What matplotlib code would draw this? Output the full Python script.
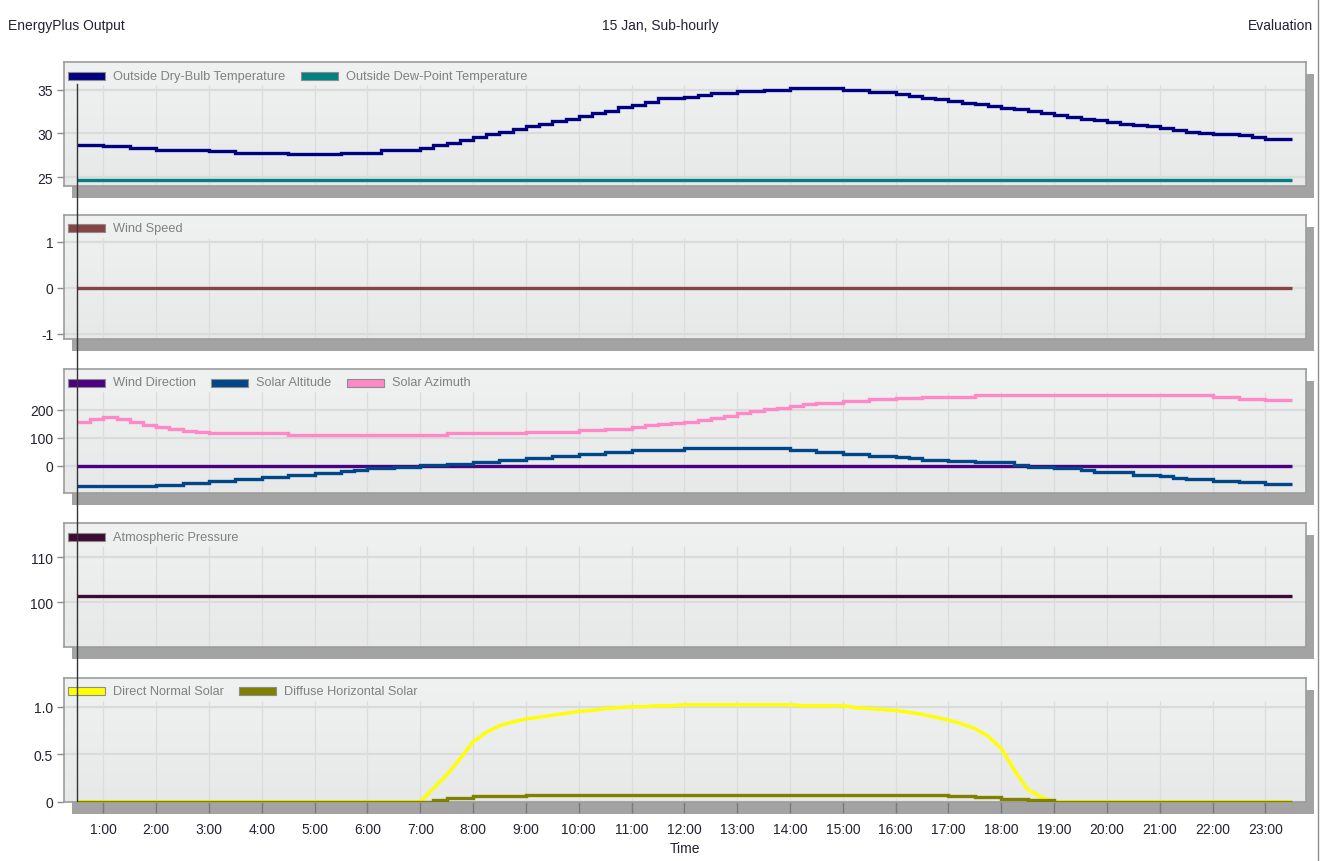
import numpy as np
import matplotlib
matplotlib.use('Agg')
import matplotlib.pyplot as plt
from matplotlib.patches import Rectangle
from matplotlib.lines import Line2D
from matplotlib import transforms

plt.rcParams['font.family'] = ['Liberation Sans', 'DejaVu Sans']

# time axis: 15 minute steps from 0:30 to 23:30 (hours)
t = np.arange(0.5, 23.5 + 0.001, 0.25)

dry_bulb = [28.7, 28.7,
            28.55, 28.55, 28.35, 28.35,
            28.15, 28.15, 28.15, 28.15,
            28.0, 28.0, 27.8, 27.8,
            27.8, 27.8, 27.65, 27.65,
            27.65, 27.65, 27.8, 27.8,
            27.8, 28.1, 28.1, 28.1,
            28.35, 28.65, 28.95, 29.3,
            29.6, 29.9, 30.2, 30.5,
            30.8, 31.1, 31.4, 31.7,
            32.0, 32.3, 32.6, 33.0,
            33.3, 33.6, 34.0, 34.0,
            34.2, 34.4, 34.6, 34.6,
            34.85, 34.85, 35.0, 35.0,
            35.15, 35.15, 35.15, 35.15,
            35.0, 35.0, 34.75, 34.75,
            34.5, 34.3, 34.1, 33.9,
            33.7, 33.5, 33.35, 33.15,
            32.95, 32.75, 32.55, 32.3,
            32.1, 31.9, 31.7, 31.5,
            31.3, 31.1, 30.95, 30.8,
            30.6, 30.4, 30.2, 30.1,
            29.95, 29.95, 29.8, 29.6,
            29.35, 29.35, 29.35]
dew_point = [24.7] * len(t)

wind_speed = [0.0] * len(t)
wind_direction = [0.0] * len(t)

solar_altitude = [-74, -74,
                  -74, -74, -74, -74,
                  -68, -68, -62, -62,
                  -56, -56, -48, -48,
                  -41, -41, -34, -34,
                  -28, -28, -20, -14,
                  -8, -8, -4, -4,
                  1, 1, 7, 7,
                  13, 13, 22, 22,
                  29, 29, 36, 36,
                  42, 42, 49, 49,
                  55, 55, 57, 57,
                  62, 62, 62, 62,
                  62, 62, 62, 62,
                  55, 55, 48, 48,
                  42, 42, 36, 36,
                  30, 26, 22, 22,
                  17, 17, 12, 12,
                  12, 2, -5, -5,
                  -10, -10, -16, -24,
                  -24, -24, -32, -32,
                  -38, -43, -48, -48,
                  -55, -55, -60, -60,
                  -65, -65, -65]

solar_azimuth = [158, 168,
                 175, 168, 156, 147,
                 140, 133, 126, 122,
                 117, 117, 117, 117,
                 117, 117, 111, 111,
                 111, 111, 111, 111,
                 111, 111, 111, 111,
                 111, 111, 117, 117,
                 117, 117, 117, 117,
                 122, 122, 122, 122,
                 128, 128, 133, 133,
                 140, 145, 149, 152,
                 156, 164, 171, 180,
                 188, 195, 202, 208,
                 214, 220, 226, 226,
                 231, 231, 238, 238,
                 243, 243, 248, 248,
                 248, 248, 254, 254,
                 254, 254, 254, 254,
                 254, 254, 254, 254,
                 254, 254, 254, 254,
                 254, 254, 254, 254,
                 247, 247, 241, 241,
                 235, 235, 235]

pressure = [101.3] * len(t)

direct_normal = [0, 0,
                 0, 0, 0, 0,
                 0, 0, 0, 0,
                 0, 0, 0, 0,
                 0, 0, 0, 0,
                 0, 0, 0, 0,
                 0, 0, 0, 0,
                 0, 0.14, 0.28, 0.45,
                 0.63, 0.73, 0.80, 0.84,
                 0.87, 0.89, 0.91, 0.93,
                 0.95, 0.96, 0.98, 0.99,
                 1.0, 1.0, 1.01, 1.01,
                 1.02, 1.02, 1.02, 1.02,
                 1.02, 1.02, 1.02, 1.02,
                 1.02, 1.01, 1.01, 1.01,
                 1.01, 0.99, 0.98, 0.97,
                 0.96, 0.94, 0.92, 0.89,
                 0.86, 0.82, 0.77, 0.69,
                 0.56, 0.33, 0.13, 0.05,
                 0, 0, 0, 0,
                 0, 0, 0, 0,
                 0, 0, 0, 0,
                 0, 0, 0, 0,
                 0, 0, 0]

diffuse_horizontal = [0, 0,
                      0, 0, 0, 0,
                      0, 0, 0, 0,
                      0, 0, 0, 0,
                      0, 0, 0, 0,
                      0, 0, 0, 0,
                      0, 0, 0, 0,
                      0, 0.02, 0.04, 0.04,
                      0.055, 0.055, 0.055, 0.055,
                      0.07, 0.07, 0.07, 0.07,
                      0.07, 0.07, 0.07, 0.07,
                      0.07, 0.07, 0.07, 0.07,
                      0.07, 0.07, 0.07, 0.07,
                      0.07, 0.07, 0.07, 0.07,
                      0.07, 0.07, 0.07, 0.07,
                      0.07, 0.07, 0.07, 0.07,
                      0.07, 0.07, 0.07, 0.07,
                      0.055, 0.055, 0.045, 0.045,
                      0.03, 0.03, 0.015, 0.015,
                      0, 0, 0, 0,
                      0, 0, 0, 0,
                      0, 0, 0, 0,
                      0, 0, 0, 0,
                      0, 0, 0]

hour_ticks = list(range(1, 24))
hour_labels = ['%d:00' % h for h in hour_ticks]

# panel definitions: (series list, y ticks, y tick labels, y limits)
panels = [
    ([('Outside Dry-Bulb Temperature', dry_bulb, '#000080', True),
      ('Outside Dew-Point Temperature', dew_point, '#008080', True)],
     [25, 30, 35], ['25', '30', '35'], (23.97, 38.13)),
    ([('Wind Speed', wind_speed, '#884444', True)],
     [-1, 0, 1], ['-1', '0', '1'], (-1.11, 1.59)),
    ([('Wind Direction', wind_direction, '#4b0082', True),
      ('Solar Altitude', solar_altitude, '#00478a', True),
      ('Solar Azimuth', solar_azimuth, '#ff88c8', True)],
     [0, 100, 200], ['0', '100', '200'], (-98, 347)),
    ([('Atmospheric Pressure', pressure, '#3d0a36', True)],
     [100, 110], ['100', '110'], (89.93, 117.5)),
    ([('Direct Normal Solar', direct_normal, '#ffff00', False),
      ('Diffuse Horizontal Solar', diffuse_horizontal, '#808000', True)],
     [0, 0.5, 1.0], ['0', '0.5', '1.0'], (0, 1.305)),
]

W, H = 1322, 862
fig = plt.figure(figsize=(W / 100, H / 100), dpi=100)
fig.patch.set_facecolor('white')

frame_left, frame_right = 64.3, 1305.7
frame_h = 124
frame_tops = [63.3, 215.7, 370.0, 524.3, 678.7]
legend_band = 23
xlim = (0.261, 23.763)
text_col = '#222233'


def fig_box(left, top, width, height):
    return [left / W, 1 - (top + height) / H, width / W, height / H]


grad = np.linspace([0.941, 0.945, 0.945], [0.906, 0.910, 0.910], 64)[:, None, :]

axes = []
for i, (series, yt, ytl, ylim) in enumerate(panels):
    top = frame_tops[i]
    # drop shadow behind each panel
    fig.add_artist(Rectangle(((frame_left + 8) / W, 1 - (top + frame_h + 12) / H),
                             (frame_right - frame_left) / W, frame_h / H,
                             transform=fig.transFigure, facecolor='#a3a3a3',
                             edgecolor='none', zorder=-2))
    ax = fig.add_axes(fig_box(frame_left, top, frame_right - frame_left, frame_h))
    ax.imshow(grad, extent=(0, 1, 0, 1), transform=ax.transAxes, aspect='auto',
              interpolation='bilinear', zorder=0)
    for s in ax.spines.values():
        s.set_color('#9c9c9c')
        s.set_linewidth(1.2)

    for v in yt:
        ax.axhline(v, color='#dadbdb', lw=1.6, zorder=1)
    ax.vlines(hour_ticks, 0, 1 - legend_band / frame_h, transform=ax.get_xaxis_transform(),
              color='#dcdcdc', lw=0.9, zorder=1)

    for name, vals, col, step in series:
        ax.plot(t, vals, color=col, lw=2.4, drawstyle='steps-post' if step else 'default',
                solid_capstyle='butt', solid_joinstyle='miter', zorder=3)

    ax.set_xlim(*xlim)
    ax.set_ylim(*ylim)
    ax.set_yticks(yt)
    ax.set_yticklabels(ytl)
    ax.tick_params(axis='y', direction='out', length=5, width=1, color='#8a8a8a',
                   labelsize=10, labelcolor=text_col, pad=3)
    ax.set_xticks(hour_ticks)
    if i == len(panels) - 1:
        ax.set_xticklabels(hour_labels)
        ax.tick_params(axis='x', direction='out', length=8, width=1, color='#7a7a7a',
                       labelsize=10, labelcolor=text_col, pad=6.5)
    else:
        ax.tick_params(axis='x', length=0, labelbottom=False)
    axes.append(ax)

    # legend row across the top band of the panel
    renderer = fig.canvas.get_renderer()
    x = frame_left + 4
    yc = top + 13.5
    for name, vals, col, step in series:
        fig.add_artist(Rectangle((x / W, 1 - (yc + 4) / H), 37 / W, 8 / H,
                                 transform=fig.transFigure, facecolor=col,
                                 edgecolor='#8c8c8c', lw=0.8, zorder=5))
        txt = fig.text((x + 45) / W, 1 - yc / H, name, fontsize=9.2, color='#808080',
                       va='center', ha='left', zorder=5)
        bb = txt.get_window_extent(renderer=renderer)
        x = bb.x1 + 15

axes[-1].set_xlabel('Time', fontsize=10, color=text_col, labelpad=4)

# y axis line at the first time step running through all panels
blend = transforms.blended_transform_factory(axes[-1].transData, fig.transFigure)
fig.add_artist(Line2D([t[0], t[0]], [1 - 85 / H, 1 - 802 / H], transform=blend,
                      color='#333333', lw=1.0, zorder=10))
fig.add_artist(Line2D([1317.5 / W, 1317.5 / W], [0, 1], transform=fig.transFigure,
                      color='#8f8f8f', lw=1.0, zorder=10))

fig.text(8 / W, 1 - 26 / H, 'EnergyPlus Output', fontsize=10, color=text_col,
         ha='left', va='center')
fig.text(660 / W, 1 - 26 / H, '15 Jan, Sub-hourly', fontsize=10, color=text_col,
         ha='center', va='center')
fig.text(1313 / W, 1 - 26 / H, 'Evaluation', fontsize=10, color=text_col,
         ha='right', va='center')

fig.savefig('out.png', dpi=100)
